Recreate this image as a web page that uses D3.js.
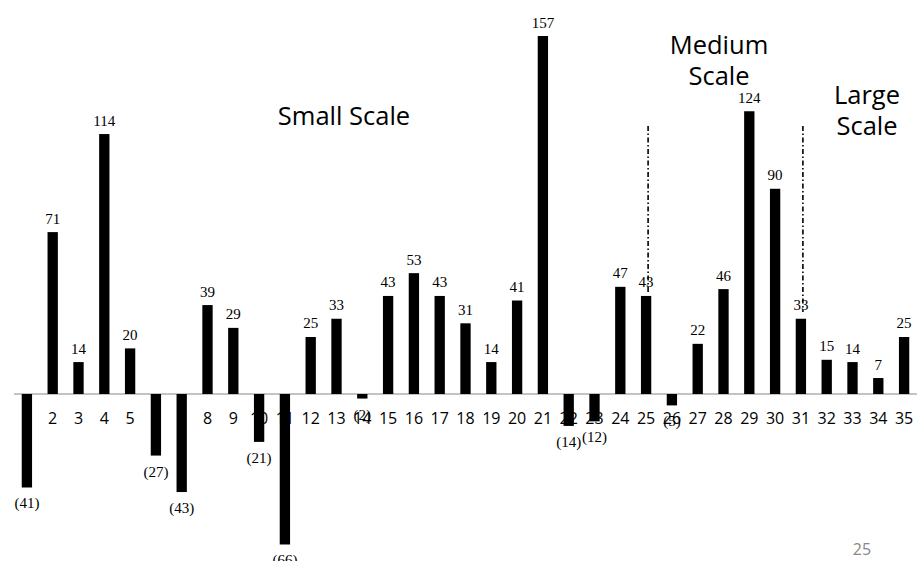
<!DOCTYPE html>
<html><head><meta charset="utf-8">
<script src="https://cdn.jsdelivr.net/npm/d3@7"></script>
<style>body{margin:0;background:#fff}svg{display:block}</style>
</head><body>
<svg id="c" width="917" height="561"></svg>
<script>
const categories = d3.range(1, 36).map(String);
const values = [-41,71,14,114,20,-27,-43,39,29,-21,-66,25,33,-2,43,53,43,31,14,41,157,-14,-12,47,43,-5,22,46,124,90,33,15,14,7,25];
const valueLabels = values.map(v => v < 0 ? "(" + (-v) + ")" : String(v));
const dividerAt = ["25", "31"];
const groupTitles = [
  {lines: ["Small Scale"], x: 344, y: 125},
  {lines: ["Medium", "Scale"], x: 719, y: 54},
  {lines: ["Large", "Scale"], x: 867, y: 104}
];
const pageNumber = "25";

const svg = d3.select("#c");
const x = d3.scaleBand().domain(categories).range([14, 917]).paddingInner(0.6).paddingOuter(0.3);
const y = d3.scaleLinear().domain([0, 157]).range([394, 36]);

// category labels (drawn beneath bars)
svg.append("g").selectAll("text").data(categories).join("text")
  .attr("x", d => x(d) + x.bandwidth() / 2)
  .attr("y", 424)
  .attr("text-anchor", "middle")
  .attr("font-family", "Open Sans, sans-serif")
  .attr("font-size", 16)
  .attr("fill", "#000")
  .text(d => d);

// axis line
svg.append("line").attr("x1", 14).attr("x2", 917).attr("y1", y(0)).attr("y2", y(0))
  .attr("stroke", "#888").attr("stroke-width", 1.2);

// bars
svg.append("g").selectAll("rect").data(values).join("rect")
  .attr("x", (d, i) => x(categories[i]))
  .attr("width", x.bandwidth())
  .attr("y", d => y(Math.max(0, d)))
  .attr("height", d => Math.abs(y(d) - y(0)))
  .attr("fill", "#000");

// dividers
svg.append("g").selectAll("line").data(dividerAt).join("line")
  .attr("x1", d => x(d) + x.bandwidth() / 2 + 2)
  .attr("x2", d => x(d) + x.bandwidth() / 2 + 2)
  .attr("y1", 126)
  .attr("y2", (d) => d === "25" ? 292 : 312)
  .attr("stroke", "#000").attr("stroke-width", 1.6)
  .attr("stroke-dasharray", "5,2.5,1.5,2.5");

// value labels
svg.append("g").selectAll("text").data(values).join("text")
  .attr("x", (d, i) => x(categories[i]) + x.bandwidth() / 2)
  .attr("y", d => d >= 0 ? y(d) - 8.5 : y(d) + 21)
  .attr("text-anchor", "middle")
  .attr("font-family", "Liberation Serif, Times New Roman, serif")
  .attr("font-size", 15)
  .attr("fill", "#000")
  .text((d, i) => valueLabels[i]);

// group titles
groupTitles.forEach(g => {
  g.lines.forEach((l, k) => {
    svg.append("text").attr("x", g.x).attr("y", g.y + k * 31)
      .attr("text-anchor", "middle")
      .attr("font-family", "Open Sans, sans-serif")
      .attr("font-size", 25.5)
      .attr("fill", "#000")
      .text(l);
  });
});

svg.append("text").attr("x", 862).attr("y", 555).attr("text-anchor", "middle")
  .attr("font-family", "Open Sans, sans-serif").attr("font-size", 16)
  .attr("fill", "#888").text(pageNumber);
</script>
</body></html>
